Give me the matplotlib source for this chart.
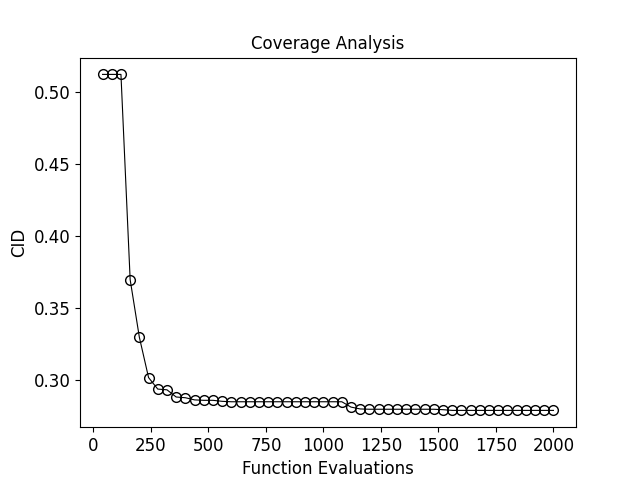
import matplotlib
matplotlib.use("Agg")
import matplotlib.pyplot as plt
import numpy as np

evals = list(range(40, 2001, 40))
cid = [0.5125, 0.5125, 0.5125, 0.370, 0.330, 0.302, 0.294, 0.2935, 0.2885, 0.288,
       0.2865, 0.2862, 0.2862, 0.2855, 0.2852, 0.2852, 0.2852, 0.2852, 0.2852, 0.2852,
       0.2852, 0.2852, 0.2852, 0.2852, 0.2852, 0.2852, 0.2852, 0.2815, 0.2802, 0.2800,
       0.2800, 0.2800, 0.2800, 0.2800, 0.2800, 0.2800, 0.2800, 0.2797, 0.2792, 0.2792,
       0.2792, 0.2792, 0.2792, 0.2792, 0.2792, 0.2792, 0.2792, 0.2792, 0.2792, 0.2792]

fig, ax = plt.subplots(figsize=(6.4, 4.8), dpi=100)
ax.plot(evals, cid, color='black', linewidth=0.8, marker='o', markersize=7,
        markerfacecolor='none', markeredgecolor='black')
ax.set_title('Coverage Analysis')
ax.set_xlabel('Function Evaluations', fontsize=12)
ax.set_ylabel('CID', fontsize=12)
ax.tick_params(labelsize=12)
fig.savefig('out.png')
